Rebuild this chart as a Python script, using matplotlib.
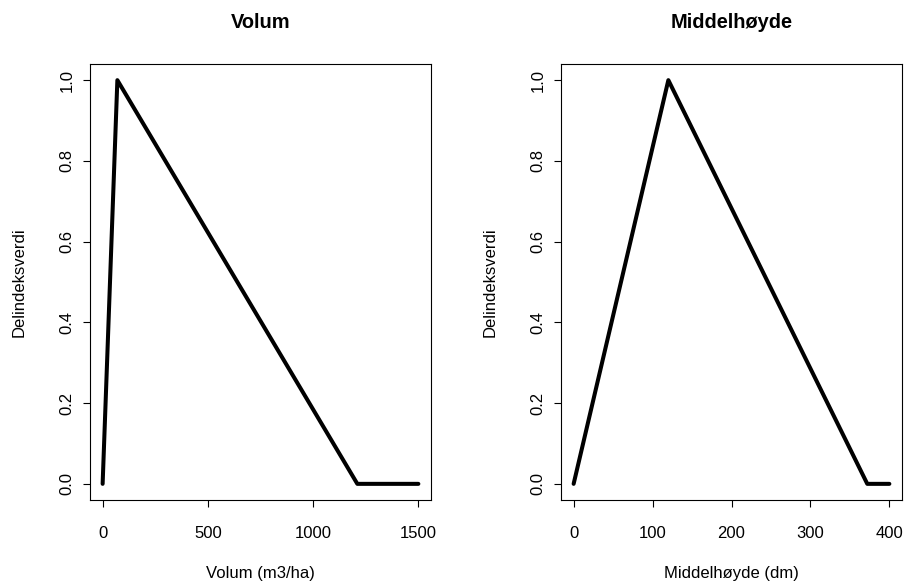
import matplotlib
matplotlib.use("Agg")
import matplotlib.pyplot as plt

plt.rcParams['font.family'] = ['Liberation Sans', 'DejaVu Sans']

vol_x = [0, 70, 1210, 1500]
vol_y = [0, 1, 0, 0]
hoyde_x = [0, 120, 372, 400]
hoyde_y = [0, 1, 0, 0]

vol_ticks = [0, 500, 1000, 1500]
hoyde_ticks = [0, 100, 200, 300, 400]
y_ticks = [0.0, 0.2, 0.4, 0.6, 0.8, 1.0]

fig = plt.figure(figsize=(9.06, 5.85), dpi=100)
W, H = 906, 585

def make_ax(l, r, t, b):
    return fig.add_axes([l / W, 1 - b / H, (r - l) / W, (b - t) / H])

AX_T, AX_B = 64, 500
panels = [
    (90, 431, vol_x, vol_y, vol_ticks, (-60, 1560), "Volum", "Volum (m3/ha)"),
    (561, 902, hoyde_x, hoyde_y, hoyde_ticks, (-16, 416), "Middelhøyde", "Middelhøyde (dm)"),
]

for l, r, xs, ys, xt, xl, title, xlabel in panels:
    ax = make_ax(l, r, AX_T, AX_B)
    aw, ah = r - l, AX_B - AX_T
    ax.plot(xs, ys, color='black', linewidth=2.9, solid_joinstyle='round', solid_capstyle='round')
    ax.set_xlim(*xl)
    ax.set_ylim(-0.04, 1.04)
    ax.set_xticks(xt)
    ax.set_xticklabels([str(v) for v in xt])
    ax.set_yticks(y_ticks)
    ax.set_yticklabels([f"{v:.1f}" for v in y_ticks], rotation=90, va='center')
    ax.tick_params(direction='out', length=5.2, width=0.8, labelsize=12)
    ax.tick_params(axis='x', pad=13.5)
    ax.tick_params(axis='y', pad=6)
    for s in ax.spines.values():
        s.set_linewidth(0.8)
    ax.set_title(title, fontsize=14.4, fontweight='bold', y=1 + (AX_T - 28) / ah, pad=0)
    ax.set_xlabel(xlabel, fontsize=12)
    ax.xaxis.set_label_coords(0.5, -(566 - AX_B) / ah)
    ax.set_ylabel("Delindeksverdi", fontsize=12)
    ax.yaxis.set_label_coords(-(90 - 27) / aw, 0.5)

fig.savefig("out.png", dpi=100)
